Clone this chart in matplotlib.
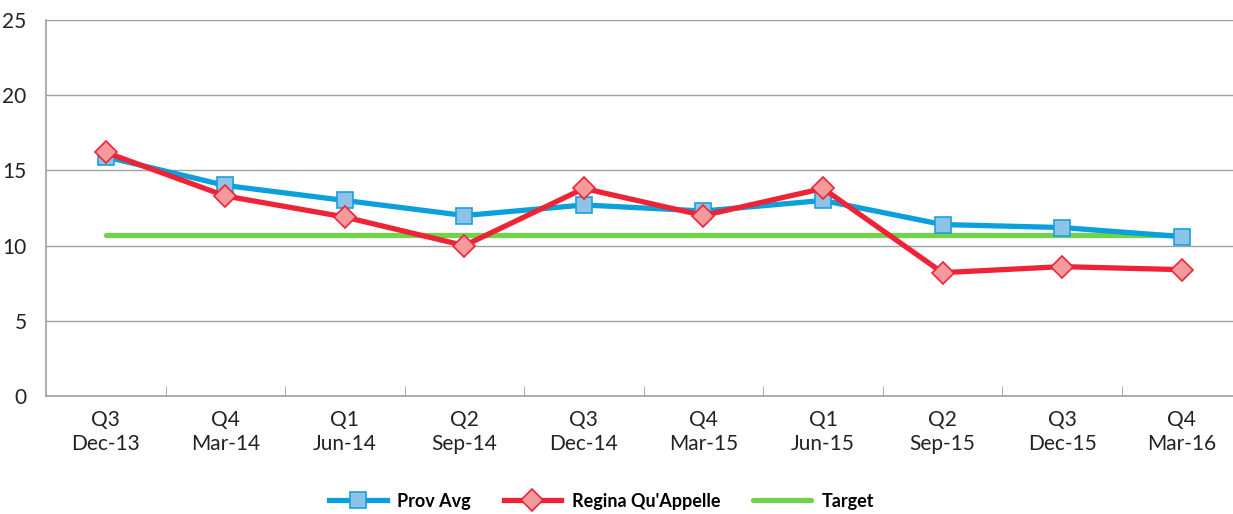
import numpy as np
import matplotlib.pyplot as plt
from matplotlib.ticker import FixedLocator

plt.rcParams['font.family'] = ['Lato', 'DejaVu Sans']

quarters = ['Q3', 'Q4', 'Q1', 'Q2', 'Q3', 'Q4', 'Q1', 'Q2', 'Q3', 'Q4']
months = ['Dec-13', 'Mar-14', 'Jun-14', 'Sep-14', 'Dec-14',
          'Mar-15', 'Jun-15', 'Sep-15', 'Dec-15', 'Mar-16']
prov_avg = [15.9, 14.0, 13.0, 12.0, 12.7, 12.3, 13.0, 11.4, 11.2, 10.6]
regina = [16.2, 13.3, 11.9, 10.0, 13.8, 12.0, 13.8, 8.2, 8.6, 8.4]
target = [10.7] * 10

labels = [q + '\n' + m for q, m in zip(quarters, months)]
x = np.arange(len(labels))

fig = plt.figure(figsize=(12.33, 5.14), dpi=100)
ax = fig.add_axes([0.0373, 0.2296, 0.9627, 0.7315])

ax.plot(x, target, color='#72D24A', lw=3.8, solid_capstyle='round', label='Target', zorder=2)
ax.plot(x, prov_avg, color='#0AA0DC', lw=3.8, marker='s', ms=11.5,
        mfc='#8EC3E8', mec='#1BA0DB', mew=1.2, label='Prov Avg', zorder=3)
ax.plot(x, regina, color='#EE2436', lw=3.8, marker='D', ms=11.5,
        mfc='#F59A9C', mec='#EE2436', mew=1.2, label="Regina Qu'Appelle", zorder=3)

ax.set_ylim(0, 25)
ax.set_yticks([0, 5, 10, 15, 20, 25])
ax.set_xlim(-0.5, 9.43)
ax.set_xticks(x)
ax.set_xticklabels(labels, fontsize=15, color='#222222', linespacing=1.25)
ax.xaxis.set_minor_locator(FixedLocator(np.arange(0.5, 9.5, 1)))
ax.tick_params(axis='x', which='major', length=0, pad=10)
ax.tick_params(axis='x', which='minor', direction='in', length=7, color='#A0A0A0')
ax.tick_params(axis='y', length=0, pad=14, labelsize=15, labelcolor='#222222')

ax.grid(axis='y', color='#A0A0A0', lw=1)
ax.set_axisbelow(True)
for s in ['top', 'right']:
    ax.spines[s].set_visible(False)
for s in ['left', 'bottom']:
    ax.spines[s].set_color('#A0A0A0')
    ax.spines[s].set_linewidth(1.2)

h, l = ax.get_legend_handles_labels()
order = [1, 2, 0]
ax.legend([h[i] for i in order], [l[i] for i in order], loc='center',
          bbox_to_anchor=(0.468, -0.28), ncol=3, frameon=False,
          prop={'size': 13, 'weight': 'bold'}, handlelength=3.2,
          columnspacing=1.8, handletextpad=0.6)

fig.savefig('out.png', dpi=100)
